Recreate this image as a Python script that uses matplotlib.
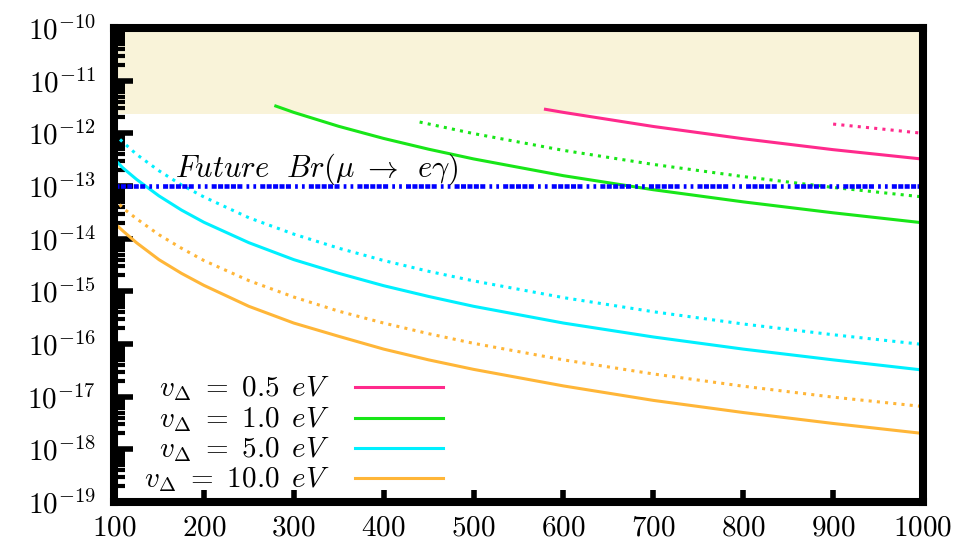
import matplotlib
matplotlib.use("Agg")
import matplotlib.pyplot as plt
from matplotlib.ticker import FixedLocator, LogLocator, FuncFormatter, NullFormatter
import numpy as np

plt.rcParams['mathtext.fontset'] = 'cm'
plt.rcParams['font.family'] = 'serif'

# charged scalar mass grid (x axis)
m_full = [100, 110, 125, 150, 175, 200, 250, 300, 350, 400, 450, 500, 600, 700, 800, 900, 1000]

# v_Delta = 10 eV
br_10_solid = [2.0e-14, 1.4e-14, 8.4e-15, 4.0e-15, 2.2e-15, 1.3e-15, 5.2e-16, 2.5e-16, 1.4e-16,
               8.0e-17, 5.0e-17, 3.3e-17, 1.6e-17, 8.5e-18, 5.0e-18, 3.1e-18, 2.0e-18]
br_10_dot = [5.8e-14, 3.8e-14, 2.4e-14, 1.19e-14, 6.6e-15, 3.85e-15, 1.6e-15, 7.8e-16, 4.2e-16,
             2.5e-16, 1.57e-16, 1.03e-16, 5.0e-17, 2.7e-17, 1.58e-17, 9.8e-18, 6.5e-18]

# v_Delta = 5 eV
br_5_solid = [3.3e-13, 2.2e-13, 1.34e-13, 6.5e-14, 3.5e-14, 2.05e-14, 8.4e-15, 4.0e-15, 2.2e-15,
              1.28e-15, 8.0e-16, 5.2e-16, 2.5e-16, 1.36e-16, 8.0e-17, 5.0e-17, 3.2e-17]
br_5_dot = [9.8e-13, 6.8e-13, 4.0e-13, 1.95e-13, 1.05e-13, 6.2e-14, 2.5e-14, 1.22e-14, 6.6e-15,
            3.85e-15, 2.4e-15, 1.58e-15, 7.6e-16, 4.1e-16, 2.4e-16, 1.5e-16, 9.8e-17]

# v_Delta = 1 eV
m_1_solid = [280, 300, 350, 400, 450, 500, 600, 700, 800, 900, 1000]
br_1_solid = [3.3e-12, 2.5e-12, 1.36e-12, 8.0e-13, 5.0e-13, 3.27e-13, 1.57e-13, 8.5e-14, 5.0e-14, 3.1e-14, 2.0e-14]
m_1_dot = [440, 500, 600, 700, 800, 900, 1000]
br_1_dot = [1.64e-12, 9.9e-13, 4.75e-13, 2.57e-13, 1.51e-13, 9.4e-14, 6.2e-14]

# v_Delta = 0.5 eV
m_05_solid = [580, 600, 700, 800, 900, 1000]
br_05_solid = [2.86e-12, 2.5e-12, 1.35e-12, 7.9e-13, 4.9e-13, 3.24e-13]
m_05_dot = [900, 950, 1000]
br_05_dot = [1.5e-12, 1.23e-12, 1.0e-12]

excluded_br = 2.3e-12
future_br = 1.0e-13

labels = [r'$v_\Delta\ =\ 0.5\ \,eV$', r'$v_\Delta\ =\ 1.0\ \,eV$',
          r'$v_\Delta\ =\ 5.0\ \,eV$', r'$v_\Delta\ =\ 10.0\ \,eV$']
colors = ['#ff2a8c', '#18e618', '#00f0ff', '#ffb638']

fig = plt.figure(figsize=(9.57, 5.44), dpi=100)
ax = fig.add_axes([0.1191, 0.0772, 0.8454, 0.8713])

ax.axhspan(excluded_br, 1e-10, color='#f9f3d9', lw=0, zorder=0)

dot = (0, (1, 1.7))
lw = 2.2
ax.plot(m_05_solid, br_05_solid, color=colors[0], lw=lw)
ax.plot(m_05_dot, br_05_dot, color=colors[0], lw=lw, ls=dot)
ax.plot(m_1_solid, br_1_solid, color=colors[1], lw=lw)
ax.plot(m_1_dot, br_1_dot, color=colors[1], lw=lw, ls=dot)
ax.plot(m_full, br_5_solid, color=colors[2], lw=lw)
ax.plot(m_full, br_5_dot, color=colors[2], lw=lw, ls=dot)
ax.plot(m_full, br_10_solid, color=colors[3], lw=lw)
ax.plot(m_full, br_10_dot, color=colors[3], lw=lw, ls=dot)

# dash made of little squares, then two dots (gnuplot dash-dot-dot)
ax.axhline(future_br, color='#0000ff', lw=3.3,
           dashes=(1.1, 0.3, 1.1, 0.3, 1.1, 0.3, 1.1, 0.3, 1.1, 0.9, 0.6, 0.9, 0.6, 0.9), zorder=3)
ax.text(168, 1.48e-13, r'$Future\ \ Br(\mu\ \rightarrow\ \,e\gamma)$', fontsize=22,
        ha='left', va='baseline')

ax.set_yscale('log')
ax.set_xlim(100, 1000)
ax.set_ylim(1e-19, 1e-10)

ax.xaxis.set_major_locator(FixedLocator(range(100, 1001, 100)))
ax.xaxis.set_major_formatter(FuncFormatter(lambda v, p: r'$%d$' % v))
ax.yaxis.set_major_locator(FixedLocator([10.0 ** k for k in range(-19, -9)]))
ax.yaxis.set_minor_locator(LogLocator(base=10, subs=np.arange(2, 10), numticks=20))
ax.yaxis.set_minor_formatter(NullFormatter())
ax.yaxis.set_major_formatter(FuncFormatter(lambda v, p: r'$10^{%d}$' % round(np.log10(v))))

ax.tick_params(axis='y', which='major', direction='in', length=14, width=4, labelsize=21, pad=13,
               right=False)
ax.tick_params(axis='y', which='minor', direction='in', length=8, width=3, right=False)
ax.tick_params(axis='x', which='major', direction='in', length=9, width=4, labelsize=21, pad=8,
               top=False)
ax.tick_params(axis='x', which='minor', bottom=False, top=False)

for s in ax.spines.values():
    s.set_linewidth(5.8)
    s.set_zorder(5)

# legend drawn gnuplot style: right-aligned text, sample line to the right
rows = [0.2426, 0.1772, 0.1139, 0.0506]
for lab, c, fy in zip(labels, colors, rows):
    ax.text(0.267, fy - 0.02, lab, transform=ax.transAxes, fontsize=21, ha='right', va='baseline')
    ax.plot([0.298, 0.407], [fy, fy], transform=ax.transAxes, color=c, lw=lw)

fig.savefig('out.png', dpi=100)
